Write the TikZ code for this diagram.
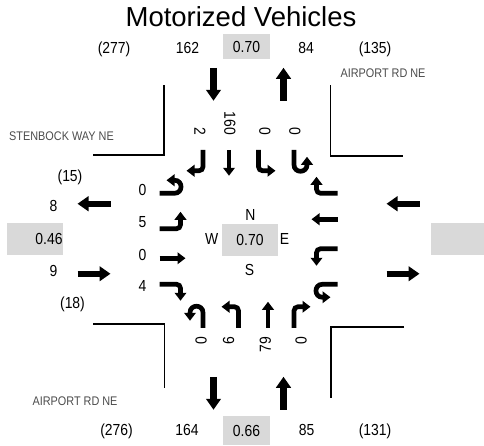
\documentclass[tikz,border=0pt]{standalone}
\usepackage{fontspec}
\setmainfont{Liberation Sans}
\newfontfamily\narrowfont[FakeStretch=0.87]{Liberation Sans}
\usetikzlibrary{arrows.meta}

\begin{document}
\begin{tikzpicture}[
    x=1pt, y=-1pt,
    num/.style={inner sep=0pt, font=\narrowfont\fontsize{16}{18}\selectfont},
    street/.style={inner sep=0pt, text=black!70,
                   font=\narrowfont\fontsize{12.5}{14}\selectfont},
    valbox/.style={num, fill=black!15},
    curb/.style={line width=1.6pt},
    lane/.style={line width=4.7pt, -{Triangle[length=8pt, width=11.5pt]}},
    flow/.style={line width=6.5pt, -{Triangle[length=11pt, width=14.5pt]}},
    lanes/.pic={
        \draw[lane] (-89,-45.5) -- (-74,-45.5)
            .. controls (-65.3,-45.5) and (-65.3,-58.5) .. (-74,-58.5) -- (-82,-58.5);
        \draw[lane, rounded corners=4pt] (-89,-10) -- (-68,-10) -- (-68,-27);
        \draw[lane] (-89,19.5) -- (-63,19.5);
        \draw[lane, rounded corners=4pt] (-89,45.5) -- (-68,45.5) -- (-68,62);
        \draw[flow] (-171,35) -- (-138,35);
        \draw[flow] (-138,-35) -- (-171,-35);
    }
]
    \useasboundingbox (0,0) rectangle (484,445);

    \node[anchor=base, inner sep=0pt, font=\fontsize{27.5}{30}\selectfont] (title) at (241,26.7) {Motorized Vehicles};

    % north leg
    \node[num, anchor=base] (ninall) at (114,53.5) {(277)};
    \node[num, anchor=base] (nin) at (187.5,53.5) {162};
    \node[valbox, minimum width=47pt, minimum height=25pt] (nphf) at (246.5,46.5) {0.70};
    \node[num, anchor=base] (nout) at (306,53.5) {84};
    \node[num, anchor=base] (noutall) at (375,53.5) {(135)};
    \node[street, anchor=base] (nstreet) at (383,77.3) {AIRPORT RD NE};
    \node[num, rotate=-90, anchor=east] (nright) at (200,135) {2};
    \node[num, rotate=-90, anchor=east] (nthru) at (230,135) {160};
    \node[num, rotate=-90, anchor=east] (nleft) at (265,135) {0};
    \node[num, rotate=-90, anchor=east] (nuturn) at (295,135) {0};

    % west leg
    \node[street, anchor=base] (wstreet) at (61.5,140.7) {STENBOCK WAY NE};
    \node[num, anchor=base] (woutall) at (70,181.7) {(15)};
    \node[num, anchor=base] (wout) at (53.6,211.7) {8};
    \node[valbox, minimum width=56pt, minimum height=32pt,
          text width=55pt, align=right] (wphf) at (35,239) {0.46};
    \node[num, anchor=base] (win) at (53.6,276) {9};
    \node[num, anchor=base] (winall) at (72.5,308.3) {(18)};
    \node[num, anchor=base] (wuturn) at (142.5,195) {0};
    \node[num, anchor=base] (wleft) at (142.5,227.3) {5};
    \node[num, anchor=base] (wthru) at (142.5,260) {0};
    \node[num, anchor=base] (wright) at (142.5,291.7) {4};

    % east leg
    \node[valbox, minimum width=53pt, minimum height=32pt] (ephf) at (457.5,239) {};

    % south leg
    \node[num, rotate=90, anchor=east] (suturn) at (201,337) {0};
    \node[num, rotate=90, anchor=east] (sleft) at (228.5,337) {6};
    \node[num, rotate=90, anchor=east] (sthru) at (265.3,337) {79};
    \node[num, rotate=90, anchor=east] (sright) at (301,337) {0};
    \node[street, anchor=base] (sstreet) at (75,405) {AIRPORT RD NE};
    \node[num, anchor=base] (soutall) at (116.5,435) {(276)};
    \node[num, anchor=base] (sout) at (187,435) {164};
    \node[valbox, minimum width=47pt, minimum height=29pt] (sphf) at (246.5,430.5) {0.66};
    \node[num, anchor=base] (sin) at (306.5,435) {85};
    \node[num, anchor=base] (sinall) at (375,435) {(131)};

    % intersection
    \coordinate (ctr) at (248.5,238.75);
    \node[valbox, minimum width=56pt, minimum height=32pt] (iphf) at (250,240) {0.70};
    \node[num, anchor=base] (north) at (250.3,220) {N};
    \node[num, anchor=base] (west) at (211.7,244) {W};
    \node[num, anchor=base] (east) at (284.5,244) {E};
    \node[num, anchor=base] (south) at (249.5,275) {S};

    \draw[curb] (164,85) -- (164,155) -- (93,155);
    \draw[curb] (330.5,85) -- (330.5,156) -- (403,156);
    \draw[curb] (93,324) -- (164.5,324) -- (164.5,388);
    \draw[curb] (404,327) -- (331,327) -- (331,398);

    \pic at (ctr) {lanes};
    \pic[rotate=90] at (ctr) {lanes};
    \pic[rotate=180] at (ctr) {lanes};
    \pic[rotate=-90] at (ctr) {lanes};
\end{tikzpicture}
\end{document}
